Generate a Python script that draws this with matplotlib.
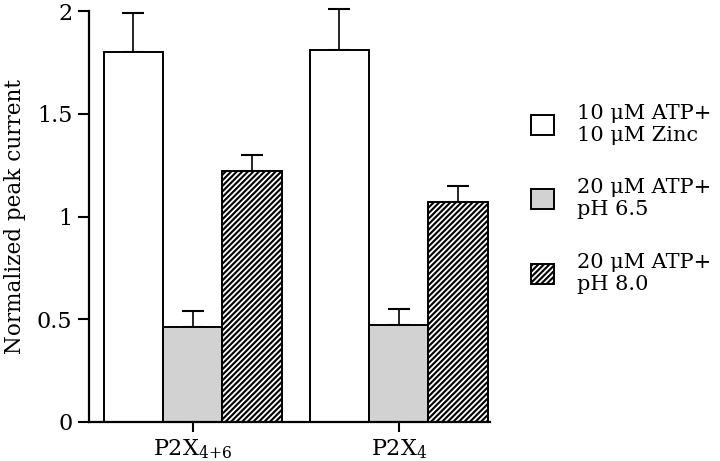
import matplotlib
matplotlib.use("Agg")
import matplotlib.pyplot as plt
import matplotlib.patches as mpatches
from matplotlib.legend_handler import HandlerTuple
import numpy as np

groups = ["P2X$_{4{+}6}$", "P2X$_4$"]
labels = ["10 \u03bcM ATP+\n10 \u03bcM Zinc", "20 \u03bcM ATP+\npH 6.5", "20 \u03bcM ATP+\npH 8.0"]
means = {
    "zinc": [1.80, 1.81],
    "ph65": [0.46, 0.47],
    "ph80": [1.22, 1.07],
}
errs = {
    "zinc": [0.19, 0.20],
    "ph65": [0.08, 0.08],
    "ph80": [0.08, 0.08],
}

plt.rcParams["font.family"] = "DejaVu Serif"
plt.rcParams["mathtext.fontset"] = "dejavuserif"
plt.rcParams["hatch.linewidth"] = 1.3

fig = plt.figure(figsize=(7.2, 4.61), dpi=100)
ax = fig.add_axes([0.1236, 0.0846, 0.557, 0.8915])

centers = np.arange(len(groups)) * 3.47
w = 1.0
lw = 1.4
gray = "#d2d2d2"

# white bars
ax.bar(centers - w, means["zinc"], w, color="white", edgecolor="black", linewidth=lw, zorder=2)
# gray bars
ax.bar(centers, means["ph65"], w, color=gray, edgecolor="black", linewidth=lw, zorder=2)
# hatched bars: black face with white hatch, then black outline on top
ax.bar(centers + w, means["ph80"], w, color="black", edgecolor="white", hatch="//////", linewidth=0, zorder=2)
ax.bar(centers + w, means["ph80"], w, fill=False, edgecolor="black", linewidth=lw, zorder=3)

for key, off in [("zinc", -w), ("ph65", 0), ("ph80", w)]:
    m = np.array(means[key])
    e = np.array(errs[key])
    eb = ax.errorbar(centers + off, m, yerr=[np.zeros_like(e), e], fmt="none",
                     ecolor="black", elinewidth=1.2, capsize=8, capthick=1.5, zorder=1)
    for art in eb.lines[1] + eb.lines[2]:
        art.set_clip_on(False)

ax.set_xlim(-1.75, centers[-1] + 1.54)
ax.set_ylim(0, 2)
ax.set_yticks([0, 0.5, 1, 1.5, 2])
ax.set_yticklabels(["0", "0.5", "1", "1.5", "2"])
ax.set_xticks(centers)
ax.set_xticklabels(groups)
ax.tick_params(axis="y", length=8, width=1.5, labelsize=16, pad=4)
ax.tick_params(axis="x", length=7, width=1.5, labelsize=16, pad=4)
ax.set_ylabel("Normalized peak current", fontsize=15.5, labelpad=8)

for s in ["top", "right"]:
    ax.spines[s].set_visible(False)
for s in ["left", "bottom"]:
    ax.spines[s].set_linewidth(1.6)

# legend handles
h1 = mpatches.Patch(facecolor="white", edgecolor="black", linewidth=lw)
h2 = mpatches.Patch(facecolor=gray, edgecolor="black", linewidth=lw)
h3a = mpatches.Patch(facecolor="black", edgecolor="white", hatch="//////", linewidth=0)
h3b = mpatches.Patch(fill=False, edgecolor="black", linewidth=lw)
fig.legend([h1, h2, (h3a, h3b)], labels, loc="upper left", bbox_to_anchor=(0.712, 0.815),
           frameon=False, fontsize=15, handlelength=1.1, handleheight=1.1,
           labelspacing=1.6, handletextpad=1.1,
           handler_map={tuple: HandlerTuple(ndivide=1, pad=0)})

fig.savefig("out.png", dpi=100)
